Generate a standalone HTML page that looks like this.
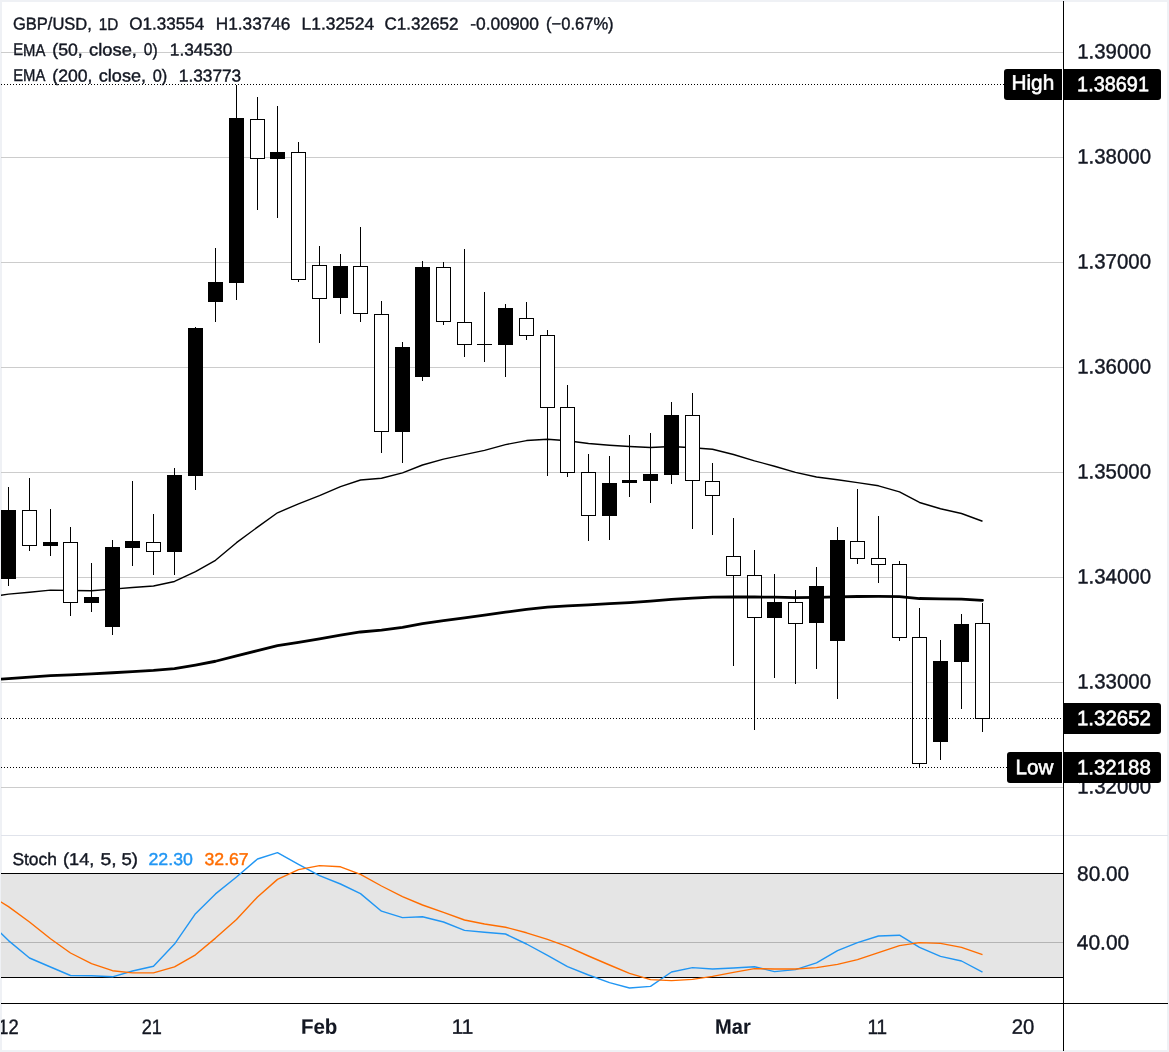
<!DOCTYPE html>
<html lang="en">
<head>
<meta charset="utf-8">
<title>GBP/USD, 1D</title>
<style>
html,body{margin:0;padding:0;background:#fff;}
body{width:1169px;height:1052px;overflow:hidden;}
svg{display:block;will-change:transform;}
text{font-family:"Liberation Sans",sans-serif;}
</style>
</head>
<body>
<svg width="1169" height="1052" viewBox="0 0 1169 1052">
<defs><clipPath id="c"><rect x="1" y="1" width="1167" height="1050"/></clipPath></defs>
<rect x="0" y="0" width="1169" height="1052" fill="#eff1f5" shape-rendering="crispEdges"/>
<rect x="2" y="2" width="1165" height="1048" fill="#ffffff" shape-rendering="crispEdges"/>
<g clip-path="url(#c)">
<g shape-rendering="crispEdges" fill="#cccccc">
<rect x="0" y="52" width="1063" height="1"/>
<rect x="0" y="157" width="1063" height="1"/>
<rect x="0" y="262" width="1063" height="1"/>
<rect x="0" y="367" width="1063" height="1"/>
<rect x="0" y="472" width="1063" height="1"/>
<rect x="0" y="577" width="1063" height="1"/>
<rect x="0" y="682" width="1063" height="1"/>
<rect x="0" y="787" width="1063" height="1"/>
</g>
<g>
<text x="12.97" y="29.6" transform="rotate(0.03 12.97 29.6)" font-size="17.2" fill="#131722" textLength="78.91" lengthAdjust="spacingAndGlyphs" stroke="#131722" stroke-width="0.4">GBP/USD,</text>
<text x="98.74" y="29.6" transform="rotate(0.03 98.74 29.6)" font-size="17.2" fill="#131722" textLength="19.59" lengthAdjust="spacingAndGlyphs" stroke="#131722" stroke-width="0.4">1D</text>
<text x="129.30" y="29.6" transform="rotate(0.03 129.30 29.6)" font-size="17.2" fill="#131722" textLength="75.01" lengthAdjust="spacingAndGlyphs" stroke="#131722" stroke-width="0.4">O1.33554</text>
<text x="215.79" y="29.6" transform="rotate(0.03 215.79 29.6)" font-size="17.2" fill="#131722" textLength="74.65" lengthAdjust="spacingAndGlyphs" stroke="#131722" stroke-width="0.4">H1.33746</text>
<text x="301.57" y="29.6" transform="rotate(0.03 301.57 29.6)" font-size="17.2" fill="#131722" textLength="72.53" lengthAdjust="spacingAndGlyphs" stroke="#131722" stroke-width="0.4">L1.32524</text>
<text x="384.55" y="29.6" transform="rotate(0.03 384.55 29.6)" font-size="17.2" fill="#131722" textLength="73.80" lengthAdjust="spacingAndGlyphs" stroke="#131722" stroke-width="0.4">C1.32652</text>
<text x="470.23" y="29.6" transform="rotate(0.03 470.23 29.6)" font-size="17.2" fill="#131722" textLength="68.72" lengthAdjust="spacingAndGlyphs" stroke="#131722" stroke-width="0.4">-0.00900</text>
<text x="546.07" y="29.6" transform="rotate(0.03 546.07 29.6)" font-size="17.2" fill="#131722" textLength="67.56" lengthAdjust="spacingAndGlyphs" stroke="#131722" stroke-width="0.4">(−0.67%)</text>
<text x="13.18" y="55.5" transform="rotate(0.03 13.18 55.5)" font-size="17.2" fill="#131722" textLength="32.15" lengthAdjust="spacingAndGlyphs" stroke="#131722" stroke-width="0.4">EMA</text>
<text x="52.30" y="55.5" transform="rotate(0.03 52.30 55.5)" font-size="17.2" fill="#131722" textLength="30.49" lengthAdjust="spacingAndGlyphs" stroke="#131722" stroke-width="0.4">(50,</text>
<text x="89.13" y="55.5" transform="rotate(0.03 89.13 55.5)" font-size="17.2" fill="#131722" textLength="47.82" lengthAdjust="spacingAndGlyphs" stroke="#131722" stroke-width="0.4">close,</text>
<text x="143.80" y="55.5" transform="rotate(0.03 143.80 55.5)" font-size="17.2" fill="#131722" textLength="13.77" lengthAdjust="spacingAndGlyphs" stroke="#131722" stroke-width="0.4">0)</text>
<text x="169.89" y="55.5" transform="rotate(0.03 169.89 55.5)" font-size="17.2" fill="#131722" textLength="62.36" lengthAdjust="spacingAndGlyphs" stroke="#131722" stroke-width="0.4">1.34530</text>
<text x="13.18" y="81.4" transform="rotate(0.03 13.18 81.4)" font-size="17.2" fill="#131722" textLength="32.15" lengthAdjust="spacingAndGlyphs" stroke="#131722" stroke-width="0.4">EMA</text>
<text x="52.31" y="81.4" transform="rotate(0.03 52.31 81.4)" font-size="17.2" fill="#131722" textLength="40.19" lengthAdjust="spacingAndGlyphs" stroke="#131722" stroke-width="0.4">(200,</text>
<text x="98.84" y="81.4" transform="rotate(0.03 98.84 81.4)" font-size="17.2" fill="#131722" textLength="47.19" lengthAdjust="spacingAndGlyphs" stroke="#131722" stroke-width="0.4">close,</text>
<text x="152.66" y="81.4" transform="rotate(0.03 152.66 81.4)" font-size="17.2" fill="#131722" textLength="14.56" lengthAdjust="spacingAndGlyphs" stroke="#131722" stroke-width="0.4">0)</text>
<text x="178.89" y="81.4" transform="rotate(0.03 178.89 81.4)" font-size="17.2" fill="#131722" textLength="62.35" lengthAdjust="spacingAndGlyphs" stroke="#131722" stroke-width="0.4">1.33773</text>
</g>
<polyline fill="none" stroke="#000000" stroke-width="1.4" stroke-linejoin="round" points="-12.5,597.5 8.5,594.12 29.5,592.18 50.5,590.09 70.5,590.46 91.5,590.72 112.5,589.12 132.5,587.44 153.5,585.99 174.5,581.46 195.5,571.62 215.5,560.33 236.5,542.67 257.5,527.14 277.5,512.78 298.5,503.82 319.5,495.67 340.5,486.67 360.5,480.02 381.5,478.2 402.5,472.89 422.5,464.98 443.5,459.17 464.5,454.67 484.5,450.38 505.5,444.59 526.5,440.57 547.5,439.3 567.5,440.7 588.5,443.54 609.5,445.2 629.5,446.52 650.5,447.57 671.5,446.44 692.5,447.73 712.5,449.29 733.5,454.51 754.5,460.83 774.5,466.23 795.5,472.44 816.5,477.04 837.5,479.79 857.5,482.59 878.5,485.81 899.5,491.91 919.5,502.49 940.5,508.73 961.5,513.5 982.5,521.28"/>
<g shape-rendering="crispEdges">
<rect x="8" y="487" width="1" height="99" fill="#000"/><rect x="1" y="510" width="15" height="69" fill="#000"/>
<rect x="29" y="478" width="1" height="73" fill="#000"/><rect x="22.5" y="510.5" width="14" height="35" fill="#fff" stroke="#000" stroke-width="1"/>
<rect x="50" y="509" width="1" height="47" fill="#000"/><rect x="43" y="542" width="15" height="4" fill="#000"/>
<rect x="70" y="527" width="1" height="89" fill="#000"/><rect x="63.5" y="542.5" width="14" height="60" fill="#fff" stroke="#000" stroke-width="1"/>
<rect x="91" y="563" width="1" height="49" fill="#000"/><rect x="84" y="597" width="15" height="6" fill="#000"/>
<rect x="112" y="540" width="1" height="95" fill="#000"/><rect x="105" y="547" width="15" height="80" fill="#000"/>
<rect x="132" y="481" width="1" height="85" fill="#000"/><rect x="125" y="541" width="15" height="7" fill="#000"/>
<rect x="153" y="514" width="1" height="61" fill="#000"/><rect x="146.5" y="542.5" width="14" height="9" fill="#fff" stroke="#000" stroke-width="1"/>
<rect x="174" y="468" width="1" height="107" fill="#000"/><rect x="167" y="475" width="15" height="77" fill="#000"/>
<rect x="195" y="327" width="1" height="163" fill="#000"/><rect x="188" y="328" width="15" height="148" fill="#000"/>
<rect x="215" y="248" width="1" height="74" fill="#000"/><rect x="208" y="282" width="15" height="20" fill="#000"/>
<rect x="236" y="85" width="1" height="215" fill="#000"/><rect x="229" y="118" width="15" height="165" fill="#000"/>
<rect x="257" y="97" width="1" height="113" fill="#000"/><rect x="250.5" y="119.5" width="14" height="39" fill="#fff" stroke="#000" stroke-width="1"/>
<rect x="277" y="106" width="1" height="112" fill="#000"/><rect x="270" y="152" width="15" height="7" fill="#000"/>
<rect x="298" y="142" width="1" height="140" fill="#000"/><rect x="291.5" y="152.5" width="14" height="127" fill="#fff" stroke="#000" stroke-width="1"/>
<rect x="319" y="246" width="1" height="97" fill="#000"/><rect x="312.5" y="265.5" width="14" height="33" fill="#fff" stroke="#000" stroke-width="1"/>
<rect x="340" y="254" width="1" height="60" fill="#000"/><rect x="333" y="266" width="15" height="32" fill="#000"/>
<rect x="360" y="227" width="1" height="95" fill="#000"/><rect x="353.5" y="266.5" width="14" height="47" fill="#fff" stroke="#000" stroke-width="1"/>
<rect x="381" y="301" width="1" height="152" fill="#000"/><rect x="374.5" y="314.5" width="14" height="117" fill="#fff" stroke="#000" stroke-width="1"/>
<rect x="402" y="342" width="1" height="121" fill="#000"/><rect x="395" y="347" width="15" height="85" fill="#000"/>
<rect x="422" y="261" width="1" height="120" fill="#000"/><rect x="415" y="267" width="15" height="110" fill="#000"/>
<rect x="443" y="262" width="1" height="63" fill="#000"/><rect x="436.5" y="267.5" width="14" height="54" fill="#fff" stroke="#000" stroke-width="1"/>
<rect x="464" y="249" width="1" height="108" fill="#000"/><rect x="457.5" y="322.5" width="14" height="22" fill="#fff" stroke="#000" stroke-width="1"/>
<rect x="484" y="292" width="1" height="70" fill="#000"/><rect x="477" y="344" width="15" height="1" fill="#000"/>
<rect x="505" y="304" width="1" height="73" fill="#000"/><rect x="498" y="308" width="15" height="37" fill="#000"/>
<rect x="526" y="302" width="1" height="38" fill="#000"/><rect x="519.5" y="318.5" width="14" height="17" fill="#fff" stroke="#000" stroke-width="1"/>
<rect x="547" y="330" width="1" height="146" fill="#000"/><rect x="540.5" y="335.5" width="14" height="72" fill="#fff" stroke="#000" stroke-width="1"/>
<rect x="567" y="385" width="1" height="92" fill="#000"/><rect x="560.5" y="407.5" width="14" height="65" fill="#fff" stroke="#000" stroke-width="1"/>
<rect x="588" y="454" width="1" height="87" fill="#000"/><rect x="581.5" y="472.5" width="14" height="43" fill="#fff" stroke="#000" stroke-width="1"/>
<rect x="609" y="456" width="1" height="84" fill="#000"/><rect x="602" y="483" width="15" height="33" fill="#000"/>
<rect x="629" y="435" width="1" height="62" fill="#000"/><rect x="622" y="480" width="15" height="3" fill="#000"/>
<rect x="650" y="433" width="1" height="70" fill="#000"/><rect x="643" y="474" width="15" height="7" fill="#000"/>
<rect x="671" y="402" width="1" height="82" fill="#000"/><rect x="664" y="415" width="15" height="60" fill="#000"/>
<rect x="692" y="393" width="1" height="136" fill="#000"/><rect x="685.5" y="415.5" width="14" height="65" fill="#fff" stroke="#000" stroke-width="1"/>
<rect x="712" y="463" width="1" height="72" fill="#000"/><rect x="705.5" y="481.5" width="14" height="14" fill="#fff" stroke="#000" stroke-width="1"/>
<rect x="733" y="518" width="1" height="148" fill="#000"/><rect x="726.5" y="556.5" width="14" height="19" fill="#fff" stroke="#000" stroke-width="1"/>
<rect x="754" y="550" width="1" height="180" fill="#000"/><rect x="747.5" y="575.5" width="14" height="42" fill="#fff" stroke="#000" stroke-width="1"/>
<rect x="774" y="574" width="1" height="104" fill="#000"/><rect x="767" y="602" width="15" height="16" fill="#000"/>
<rect x="795" y="590" width="1" height="94" fill="#000"/><rect x="788.5" y="602.5" width="14" height="21" fill="#fff" stroke="#000" stroke-width="1"/>
<rect x="816" y="567" width="1" height="102" fill="#000"/><rect x="809" y="586" width="15" height="37" fill="#000"/>
<rect x="837" y="527" width="1" height="172" fill="#000"/><rect x="830" y="540" width="15" height="101" fill="#000"/>
<rect x="857" y="489" width="1" height="75" fill="#000"/><rect x="850.5" y="541.5" width="14" height="17" fill="#fff" stroke="#000" stroke-width="1"/>
<rect x="878" y="516" width="1" height="67" fill="#000"/><rect x="871.5" y="558.5" width="14" height="6" fill="#fff" stroke="#000" stroke-width="1"/>
<rect x="899" y="561" width="1" height="80" fill="#000"/><rect x="892.5" y="564.5" width="14" height="73" fill="#fff" stroke="#000" stroke-width="1"/>
<rect x="919" y="608" width="1" height="160" fill="#000"/><rect x="912.5" y="637.5" width="14" height="126" fill="#fff" stroke="#000" stroke-width="1"/>
<rect x="940" y="640" width="1" height="120" fill="#000"/><rect x="933" y="661" width="15" height="81" fill="#000"/>
<rect x="961" y="614" width="1" height="95" fill="#000"/><rect x="954" y="624" width="15" height="38" fill="#000"/>
<rect x="982" y="603" width="1" height="129" fill="#000"/><rect x="975.5" y="623.5" width="14" height="95" fill="#fff" stroke="#000" stroke-width="1"/>
</g>
<polyline fill="none" stroke="#000000" stroke-width="2.8" stroke-linejoin="round" stroke-linecap="round" points="-12.5,680.3 8.5,678.52 29.5,677.05 50.5,675.57 70.5,674.78 91.5,673.95 112.5,672.74 132.5,671.54 153.5,670.44 174.5,668.6 195.5,665.03 215.5,661.25 236.5,655.8 257.5,650.7 277.5,645.72 298.5,642.4 319.5,638.81 340.5,635.09 360.5,631.99 381.5,630.11 402.5,627.33 422.5,623.67 443.5,620.67 464.5,617.92 484.5,615.18 505.5,612.16 526.5,609.28 547.5,607.15 567.5,605.87 588.5,604.78 609.5,603.67 629.5,602.56 650.5,601.11 671.5,599.38 692.5,598.21 712.5,597.15 733.5,596.79 754.5,597.02 774.5,597.17 795.5,597.55 816.5,597.32 837.5,596.87 857.5,596.52 878.5,596.36 899.5,596.56 919.5,598.52 940.5,598.96 961.5,599.21 982.5,600.3"/>
<g shape-rendering="crispEdges" stroke="#000000" stroke-width="1" stroke-dasharray="1 2" fill="none">
<line x1="1" y1="84.5" x2="1004" y2="84.5"/>
<line x1="1" y1="718.5" x2="1063" y2="718.5"/>
<line x1="1" y1="767.5" x2="1007" y2="767.5"/>
</g>
<rect x="0" y="835" width="1169" height="1" fill="#e0e3eb" shape-rendering="crispEdges"/>
<g shape-rendering="crispEdges">
<rect x="0" y="874" width="1063" height="103" fill="#e5e5e5"/>
<rect x="0" y="873" width="1063" height="1" fill="#000"/>
<rect x="0" y="977" width="1063" height="1" fill="#000"/>
<rect x="0" y="942" width="1063" height="1" fill="#b4b4b4"/>
</g>
<polyline fill="none" stroke="#2196f3" stroke-width="1.4" stroke-linejoin="round" points="-12.5,920 8.5,940.6 29.5,958 50.5,967 70.5,975.5 91.5,975.7 112.5,976.8 132.5,971 153.5,966.3 174.5,944.1 195.5,913.7 215.5,893.9 236.5,877 257.5,859 277.5,852.6 298.5,864.4 319.5,875.6 340.5,884 360.5,893.6 381.5,911.2 402.5,917.6 422.5,916.8 443.5,922 464.5,930.4 484.5,932.2 505.5,934 526.5,944 547.5,955.4 567.5,966.6 588.5,975 609.5,982.6 629.5,988 650.5,986.4 671.5,972 692.5,967.6 712.5,969 733.5,968 754.5,966.8 774.5,971.6 795.5,969.6 816.5,962.8 837.5,950.6 857.5,942.6 878.5,936 899.5,935.2 919.5,947.4 940.5,956.4 961.5,961 982.5,972.2"/>
<polyline fill="none" stroke="#ff6d00" stroke-width="1.4" stroke-linejoin="round" points="-12.5,893.7 8.5,906.6 29.5,922 50.5,938.7 70.5,953 91.5,963.7 112.5,970.7 132.5,972.9 153.5,972.9 174.5,966.8 195.5,954.8 215.5,938.1 236.5,919.4 257.5,897 277.5,879.4 298.5,869.6 319.5,865.6 340.5,866.8 360.5,874.4 381.5,886 402.5,896.6 422.5,905 443.5,912.4 464.5,920 484.5,924 505.5,927.2 526.5,932.8 547.5,939.4 567.5,946.6 588.5,956 609.5,965 629.5,973.4 650.5,979.6 671.5,980.6 692.5,979.4 712.5,976.4 733.5,972.4 754.5,968.6 774.5,969 795.5,969 816.5,967.6 837.5,964.4 857.5,959.6 878.5,952.6 899.5,945.6 919.5,942.6 940.5,943.4 961.5,947.4 982.5,954.6"/>
<text x="12.42" y="865.0" transform="rotate(0.03 12.42 865.0)" font-size="17.2" fill="#131722" textLength="44.50" lengthAdjust="spacingAndGlyphs" stroke="#131722" stroke-width="0.4">Stoch</text>
<text x="63.07" y="865.0" transform="rotate(0.03 63.07 865.0)" font-size="17.2" fill="#131722" textLength="31.37" lengthAdjust="spacingAndGlyphs" stroke="#131722" stroke-width="0.4">(14,</text>
<text x="100.43" y="865.0" transform="rotate(0.03 100.43 865.0)" font-size="17.2" fill="#131722" textLength="16.11" lengthAdjust="spacingAndGlyphs" stroke="#131722" stroke-width="0.4">5,</text>
<text x="121.46" y="865.0" transform="rotate(0.03 121.46 865.0)" font-size="17.2" fill="#131722" textLength="16.50" lengthAdjust="spacingAndGlyphs" stroke="#131722" stroke-width="0.4">5)</text>
<text x="148.51" y="865.0" transform="rotate(0.03 148.51 865.0)" font-size="17.2" fill="#2196f3" textLength="44.37" lengthAdjust="spacingAndGlyphs" stroke="#2196f3" stroke-width="0.4">22.30</text>
<text x="204.53" y="865.0" transform="rotate(0.03 204.53 865.0)" font-size="17.2" fill="#ff6d00" textLength="44.16" lengthAdjust="spacingAndGlyphs" stroke="#ff6d00" stroke-width="0.4">32.67</text>
<g shape-rendering="crispEdges" fill="#000">
<rect x="1063" y="0" width="1" height="1052"/>
<rect x="0" y="1003" width="1169" height="1"/>
</g>
<text x="1077.25" y="58.5" transform="rotate(0.03 1077.25 58.5)" font-size="20.9" fill="#131722" textLength="73.72" lengthAdjust="spacingAndGlyphs" stroke="#131722" stroke-width="0.4">1.39000</text>
<text x="1077.25" y="163.5" transform="rotate(0.03 1077.25 163.5)" font-size="20.9" fill="#131722" textLength="73.72" lengthAdjust="spacingAndGlyphs" stroke="#131722" stroke-width="0.4">1.38000</text>
<text x="1077.25" y="268.5" transform="rotate(0.03 1077.25 268.5)" font-size="20.9" fill="#131722" textLength="73.72" lengthAdjust="spacingAndGlyphs" stroke="#131722" stroke-width="0.4">1.37000</text>
<text x="1077.25" y="373.5" transform="rotate(0.03 1077.25 373.5)" font-size="20.9" fill="#131722" textLength="73.72" lengthAdjust="spacingAndGlyphs" stroke="#131722" stroke-width="0.4">1.36000</text>
<text x="1077.25" y="478.5" transform="rotate(0.03 1077.25 478.5)" font-size="20.9" fill="#131722" textLength="73.72" lengthAdjust="spacingAndGlyphs" stroke="#131722" stroke-width="0.4">1.35000</text>
<text x="1077.25" y="583.5" transform="rotate(0.03 1077.25 583.5)" font-size="20.9" fill="#131722" textLength="73.72" lengthAdjust="spacingAndGlyphs" stroke="#131722" stroke-width="0.4">1.34000</text>
<text x="1077.25" y="688.5" transform="rotate(0.03 1077.25 688.5)" font-size="20.9" fill="#131722" textLength="73.72" lengthAdjust="spacingAndGlyphs" stroke="#131722" stroke-width="0.4">1.33000</text>
<text x="1077.25" y="793.5" transform="rotate(0.03 1077.25 793.5)" font-size="20.9" fill="#131722" textLength="73.72" lengthAdjust="spacingAndGlyphs" stroke="#131722" stroke-width="0.4">1.32000</text>
<text x="1077.10" y="880.7" transform="rotate(0.03 1077.10 880.7)" font-size="20.9" fill="#131722" textLength="52.10" lengthAdjust="spacingAndGlyphs" stroke="#131722" stroke-width="0.4">80.00</text>
<text x="1076.74" y="949.6" transform="rotate(0.03 1076.74 949.6)" font-size="20.9" fill="#131722" textLength="52.47" lengthAdjust="spacingAndGlyphs" stroke="#131722" stroke-width="0.4">40.00</text>
<path d="M1007,69 H1062 V100 H1007 Q1004,100 1004,97 V72 Q1004,69 1007,69 Z" fill="#000"/>
<path d="M1063,69 H1158 Q1161,69 1161,72 V97 Q1161,100 1158,100 H1063 V69 Z" fill="#000"/>
<text x="1011.50" y="89.7" transform="rotate(0.03 1011.50 89.7)" font-size="20.9" fill="#fff" textLength="42.73" lengthAdjust="spacingAndGlyphs" stroke="#fff" stroke-width="0.6">High</text>
<text x="1077.09" y="91.3" transform="rotate(0.03 1077.09 91.3)" font-size="20.9" fill="#fff" textLength="71.86" lengthAdjust="spacingAndGlyphs" stroke="#fff" stroke-width="0.6">1.38691</text>
<path d="M1063,703 H1158 Q1161,703 1161,706 V731 Q1161,734 1158,734 H1063 V703 Z" fill="#000"/>
<text x="1076.94" y="725.2" transform="rotate(0.03 1076.94 725.2)" font-size="20.9" fill="#fff" textLength="74.08" lengthAdjust="spacingAndGlyphs" stroke="#fff" stroke-width="0.6">1.32652</text>
<path d="M1010,752 H1062 V783 H1010 Q1007,783 1007,780 V755 Q1007,752 1010,752 Z" fill="#000"/>
<path d="M1063,752 H1158 Q1161,752 1161,755 V780 Q1161,783 1158,783 H1063 V752 Z" fill="#000"/>
<text x="1015.61" y="774.2" transform="rotate(0.03 1015.61 774.2)" font-size="20.9" fill="#fff" textLength="37.79" lengthAdjust="spacingAndGlyphs" stroke="#fff" stroke-width="0.6">Low</text>
<text x="1076.95" y="774.4" transform="rotate(0.03 1076.95 774.4)" font-size="20.9" fill="#fff" textLength="73.93" lengthAdjust="spacingAndGlyphs" stroke="#fff" stroke-width="0.6">1.32188</text>
<text x="-1.70" y="1033.7" transform="rotate(0.03 -1.70 1033.7)" font-size="20.9" fill="#131722" textLength="20.42" lengthAdjust="spacingAndGlyphs" stroke="#131722" stroke-width="0.4">12</text>
<text x="141.80" y="1033.7" transform="rotate(0.03 141.80 1033.7)" font-size="20.9" fill="#131722" textLength="20.13" lengthAdjust="spacingAndGlyphs" stroke="#131722" stroke-width="0.4">21</text>
<text x="300.90" y="1033.7" transform="rotate(0.03 300.90 1033.7)" font-size="20.9" fill="#131722" textLength="36.39" lengthAdjust="spacingAndGlyphs" font-weight="bold" stroke="#131722" stroke-width="0.1">Feb</text>
<text x="451.83" y="1033.7" transform="rotate(0.03 451.83 1033.7)" font-size="20.9" fill="#131722" textLength="21.47" lengthAdjust="spacingAndGlyphs" stroke="#131722" stroke-width="0.4">11</text>
<text x="715.02" y="1033.7" transform="rotate(0.03 715.02 1033.7)" font-size="20.9" fill="#131722" textLength="35.71" lengthAdjust="spacingAndGlyphs" font-weight="bold" stroke="#131722" stroke-width="0.1">Mar</text>
<text x="867.46" y="1033.7" transform="rotate(0.03 867.46 1033.7)" font-size="20.9" fill="#131722" textLength="19.65" lengthAdjust="spacingAndGlyphs" stroke="#131722" stroke-width="0.4">11</text>
<text x="1011.68" y="1033.7" transform="rotate(0.03 1011.68 1033.7)" font-size="20.9" fill="#131722" textLength="22.59" lengthAdjust="spacingAndGlyphs" stroke="#131722" stroke-width="0.4">20</text>
</g>
</svg>
</body>
</html>
